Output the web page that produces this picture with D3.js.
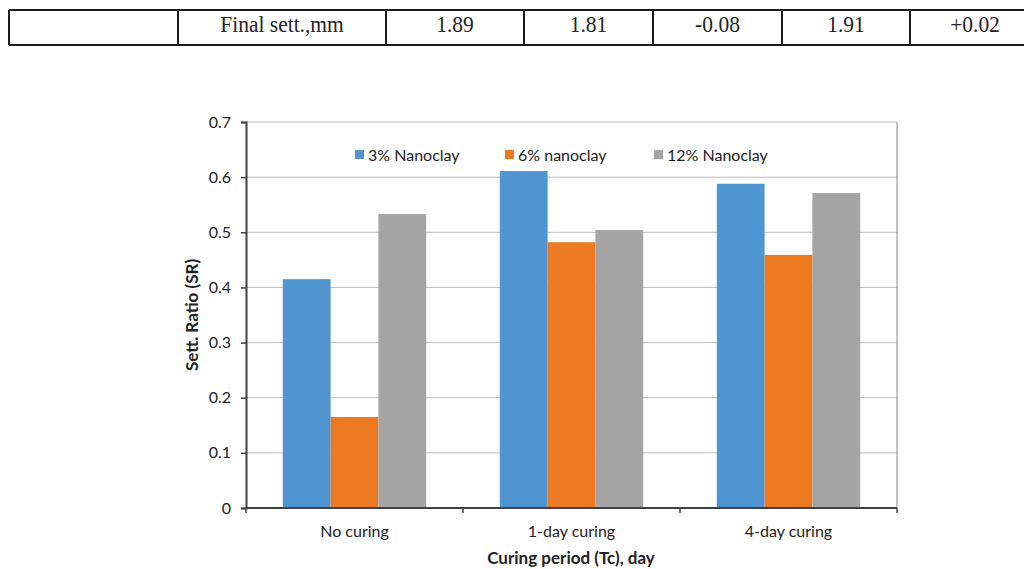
<!DOCTYPE html>
<html>
<head>
<meta charset="utf-8">
<script src="https://cdn.jsdelivr.net/npm/d3@7"></script>
<style>
  html, body { margin: 0; padding: 0; background: #fff; }
  svg { display: block; }
</style>
</head>
<body>
<svg id="chart" width="1024" height="569"></svg>
<script>
// ---- data ----
const tableCells = ["", "Final sett.,mm", "1.89", "1.81", "-0.08", "1.91", "+0.02"];
const categories = ["No curing", "1-day curing", "4-day curing"];
const seriesNames = ["3% Nanoclay", "6% nanoclay", "12% Nanoclay"];
const series3 = [0.415, 0.611, 0.588];
const series6 = [0.165, 0.482, 0.459];
const series12 = [0.533, 0.504, 0.571];
const yTicks = [0, 0.1, 0.2, 0.3, 0.4, 0.5, 0.6, 0.7];
const colors = ["#4f95d1", "#ec7a22", "#a3a4a3"];

const svg = d3.select("#chart");

// ---- table row (document fragment above the chart) ----
const colEdges = [9, 178, 386, 524, 653, 782, 910, 1040];
const tTop = 10, tBot = 45;
const tg = svg.append("g");
tg.append("line").attr("x1", 9).attr("x2", 1024).attr("y1", tTop).attr("y2", tTop)
  .attr("stroke", "#1a1a1a").attr("stroke-width", 2);
tg.append("line").attr("x1", 9).attr("x2", 1024).attr("y1", tBot).attr("y2", tBot)
  .attr("stroke", "#1a1a1a").attr("stroke-width", 2);
colEdges.slice(0, -1).forEach(x => {
  tg.append("line").attr("x1", x).attr("x2", x).attr("y1", tTop).attr("y2", tBot)
    .attr("stroke", "#1a1a1a").attr("stroke-width", 2);
});
tableCells.forEach((t, i) => {
  if (!t) return;
  const cx = (colEdges[i] + colEdges[i + 1]) / 2;
  tg.append("text")
    .attr("transform", `translate(${cx},32) scale(1,1.12)`)
    .attr("text-anchor", "middle")
    .attr("font-family", "'Liberation Serif', 'Times New Roman', serif")
    .attr("font-size", 21.5)
    .attr("fill", "#222")
    .text(t);
});

// ---- chart ----
const plot = { left: 246, right: 897, top: 122, bottom: 508 };
const x0 = d3.scaleBand().domain(categories).range([plot.left, plot.right]).paddingInner(0).paddingOuter(0);
const x1 = d3.scaleBand().domain(seriesNames).range([0, x0.bandwidth()]).paddingInner(0).paddingOuter(0.77);
const y = d3.scaleLinear().domain([0, 0.7]).range([plot.bottom, plot.top]);

const font = "Lato, 'Open Sans', sans-serif";
const g = svg.append("g");

// gridlines
g.append("g").selectAll("line").data(yTicks.filter(d => d > 0)).join("line")
  .attr("x1", plot.left).attr("x2", plot.right)
  .attr("y1", d => y(d)).attr("y2", d => y(d))
  .attr("stroke", "#bfbfbf").attr("stroke-width", 1);

// right border
g.append("line").attr("x1", plot.right).attr("x2", plot.right)
  .attr("y1", plot.top).attr("y2", plot.bottom)
  .attr("stroke", "#8a8a8a").attr("stroke-width", 1);

// bars
const allSeries = [series3, series6, series12];
const rows = categories.map((c, i) => seriesNames.map((s, j) => ({ c, s, v: allSeries[j][i], j })));
g.append("g").selectAll("g").data(rows).join("g")
  .attr("transform", d => `translate(${x0(d[0].c)},0)`)
  .selectAll("rect").data(d => d).join("rect")
  .attr("x", d => x1(d.s))
  .attr("width", x1.bandwidth())
  .attr("y", d => y(d.v))
  .attr("height", d => y(0) - y(d.v))
  .attr("fill", d => colors[d.j]);

// y axis
const yAxis = d3.axisLeft(y).tickValues(yTicks).tickSize(5).tickPadding(10)
  .tickFormat(d => d === 0 ? "0" : d3.format(".1f")(d));
const ya = g.append("g").attr("transform", `translate(${plot.left},0)`).call(yAxis);
ya.select(".domain").attr("stroke", "#404040").attr("stroke-width", 2);
ya.selectAll(".tick line").attr("stroke", "#404040").attr("stroke-width", 1.5);
ya.selectAll(".tick text").attr("font-family", font).attr("font-size", 16).attr("fill", "#222");

// x axis
const xa = g.append("g").attr("transform", `translate(0,${plot.bottom})`);
xa.append("line").attr("x1", plot.left).attr("x2", plot.right).attr("y1", 0).attr("y2", 0)
  .attr("stroke", "#404040").attr("stroke-width", 2);
const edges = categories.map(c => x0(c)).concat([x0(categories[categories.length - 1]) + x0.bandwidth()]);
xa.selectAll("line.tk").data(edges).join("line").attr("class", "tk")
  .attr("x1", d => d).attr("x2", d => d).attr("y1", 0).attr("y2", 5)
  .attr("stroke", "#404040").attr("stroke-width", 1.5);
xa.selectAll("text").data(categories).join("text")
  .attr("x", d => x0(d) + x0.bandwidth() / 2)
  .attr("y", 29)
  .attr("text-anchor", "middle")
  .attr("font-family", font).attr("font-size", 16).attr("fill", "#222")
  .text(d => d);

// axis titles
g.append("text")
  .attr("transform", `translate(198,${(plot.top + plot.bottom) / 2}) rotate(-90)`)
  .attr("text-anchor", "middle")
  .attr("font-family", font).attr("font-size", 17).attr("font-weight", "bold").attr("fill", "#222")
  .text("Sett. Ratio (SR)");
g.append("text")
  .attr("x", 571).attr("y", 564)
  .attr("text-anchor", "middle")
  .attr("font-family", font).attr("font-size", 17).attr("font-weight", "bold").attr("fill", "#222")
  .text("Curing period (Tc), day");

// legend
const legendX = [355, 505, 654];
const lg = g.append("g").selectAll("g").data(seriesNames).join("g")
  .attr("transform", (d, i) => `translate(${legendX[i]},155)`);
lg.append("rect").attr("x", 0).attr("y", -5).attr("width", 9).attr("height", 9)
  .attr("fill", (d, i) => colors[i]);
lg.append("text").attr("x", 13).attr("y", 6)
  .attr("font-family", font).attr("font-size", 16).attr("fill", "#222")
  .text(d => d);
</script>
</body>
</html>
